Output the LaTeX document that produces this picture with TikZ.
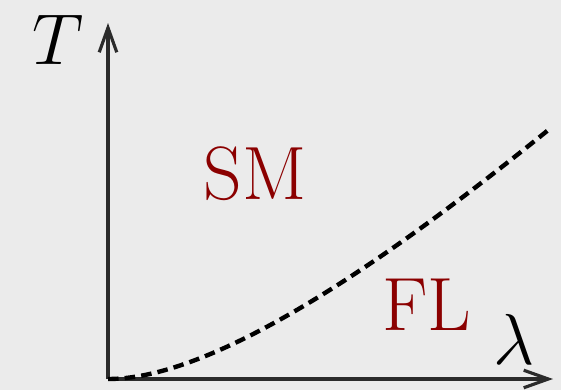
\documentclass[tikz,border=0pt]{standalone}
\usetikzlibrary{arrows.meta}
\definecolor{bg}{HTML}{EBEBEB}
\definecolor{axis}{HTML}{2B2B2B}
\definecolor{lbl}{HTML}{8B0000}
\begin{document}
\begin{tikzpicture}[x=0.02cm,y=-0.02cm,
  axisline/.style={draw=axis,line width=2pt,-{Straight Barb[length=14pt,width=10pt,line width=1.8pt]}},
  region/.style={text=lbl,font=\fontsize{43}{46}\selectfont,inner sep=0pt},
  axlabel/.style={text=black,font=\Huge,scale=1.65,inner sep=0pt}]
\fill[bg] (0,0) rectangle (561,390);
\useasboundingbox (0,0) rectangle (561,390);
\coordinate (o) at (108,379);
\coordinate (ytip) at (108,23);
\coordinate (xtip) at (553,379);
\coordinate (cend) at (552,127);
\draw[axisline] (o) -- (ytip);
\draw[axisline] (o) -- (xtip);
\draw[line width=2.5pt,dash pattern=on 6pt off 3.5pt,black] (o) .. controls (220,379) and (400,250) .. (cend);
\node[axlabel] (T) at (58,40) {$T$};
\node[axlabel] (lam) at (514,339) {$\lambda$};
\node[region] (SM) at (255,174) {SM};
\node[region] (FL) at (427,305) {FL};
\end{tikzpicture}
\end{document}
